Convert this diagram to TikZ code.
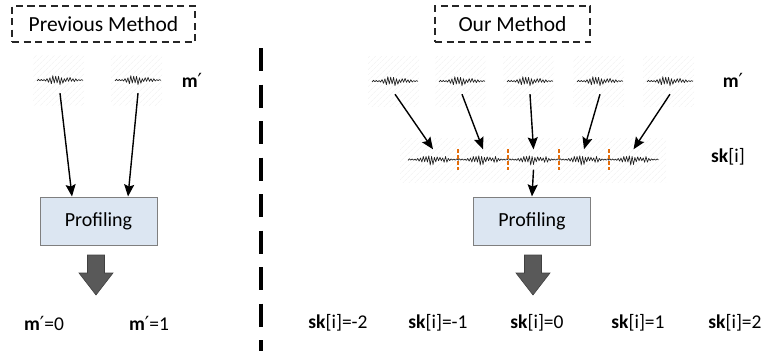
\documentclass[tikz,border=0pt]{standalone}
\usepackage{fontspec}
\setmainfont{Carlito}
\newfontfamily\primefont{DejaVu Sans}
\newcommand\prm{{\primefont\mdseries ′}}
\usetikzlibrary{arrows.meta,patterns.meta}
\definecolor{profill}{HTML}{DCE6F2}
\definecolor{proline}{HTML}{7F7F7F}
\definecolor{bigarrow}{HTML}{595959}
\definecolor{sepor}{HTML}{E36C09}
\definecolor{wavecol}{HTML}{1E1E1E}
\newcommand\mywave[3]{% node name, half width, number of steps
  \begin{scope}[shift={(#1.center)}]
    \pgfmathsetseed{11}
    \draw[wave] plot[domain=0:#3, samples=#3+1]
      ({-#2+\x*2*#2/#3},
       {(0.9+7.2*exp(-((-#2+\x*2*#2/#3+3)/(0.3*#2))^2)+3*exp(-((-#2+\x*2*#2/#3-0.45*#2)/(0.2*#2))^2))*(0.3+0.7*rnd)*cos(180*\x)});
  \end{scope}}
\begin{document}
\begin{tikzpicture}[x=1pt,y=-1pt,
  titlebox/.style={draw=black!85, line width=1.4pt, dash pattern=on 7pt off 4.5pt,
    minimum height=36pt, inner sep=0pt, font=\fontsize{21.5}{25}\selectfont},
  prof/.style={draw=proline, fill=profill, line width=1pt, minimum width=117pt,
    minimum height=48pt, inner sep=0pt, font=\fontsize{20}{24}\selectfont},
  wnode/.style={minimum width=46pt, minimum height=26pt, inner sep=0pt},
  snode/.style={minimum width=50pt, minimum height=20pt, inner sep=0pt},
  wave/.style={draw=wavecol, line width=0.65pt, line join=round},
  hatch/.style={pattern={Lines[angle=45,distance=4pt,line width=0.5pt]}, pattern color=black!6},
  arr/.style={line width=1.4pt, -{Stealth[length=12pt,width=10pt,inset=2pt]}},
  lab/.style={font=\fontsize{19.5}{23}\selectfont, inner sep=0pt},
  sepline/.style={draw=sepor, line width=1.6pt, dash pattern=on 3.5pt off 2.5pt},
  big/.style={fill=bigarrow, draw=black!75, line width=0.6pt, line join=miter}
]
\useasboundingbox (0,0) rectangle (764,351);

% titles
\node[titlebox, minimum width=183pt] (t1) at (103.5,24) {Previous Method};
\node[titlebox, minimum width=155pt] (t2) at (512.5,24) {Our Method};

% vertical divider
\draw[line width=3.3pt, dash pattern=on 23pt off 13.5pt] (261,48) -- (261,351);

% hatched backgrounds
\foreach \cx in {60,138}{\fill[hatch] (\cx-27,55) rectangle (\cx+24,105);}
\foreach \cx in {395,462,530,600,670}{\fill[hatch] (\cx-27,56) rectangle (\cx+24,106);}
\fill[hatch] (400,138) rectangle (666,182);

% left waveforms
\node[wnode] (a1) at (60,80) {};
\node[wnode] (a2) at (138,80) {};
\mywave{a1}{23}{32}
\mywave{a2}{23}{32}
\node[lab] (am) at (192,80) {\textbf{m}\prm};

% right waveforms
\node[wnode] (b1) at (395,81) {};
\node[wnode] (b2) at (462,81) {};
\node[wnode] (b3) at (530,81) {};
\node[wnode] (b4) at (600,81) {};
\node[wnode] (b5) at (670,81) {};
\foreach \n in {b1,b2,b3,b4,b5}{\mywave{\n}{23}{32}}
\node[lab] (bm) at (733,80) {\textbf{m}\prm};

% sk segments
\node[snode] (s1) at (433,159.5) {};
\node[snode] (s2) at (483,159.5) {};
\node[snode] (s3) at (533.5,159.5) {};
\node[snode] (s4) at (584,159.5) {};
\node[snode] (s5) at (633.5,159.5) {};
\foreach \n in {s1,s2,s3,s4,s5}{\mywave{\n}{25}{36}}
\foreach \n in {s1,s2,s3,s4}{\draw[sepline] (\n.north east) -- (\n.south east);}
\node[lab] (sk) at (728,157) {\textbf{sk}[i]};

% profiling boxes
\node[prof] (p1) at (98.5,221) {Profiling};
\node[prof] (p2) at (532,221) {Profiling};

% arrows
\draw[arr] (a1.south) -- ([xshift=-26.5pt]p1.north);
\draw[arr] (a2.south) -- ([xshift=29.5pt]p1.north);
\draw[arr] (b1.south) -- (s1.north);
\draw[arr] (b2.south) -- (s2.north);
\draw[arr] (b3.south) -- (s3.north);
\draw[arr] (b4.south) -- (s4.north);
\draw[arr] (b5.south) -- (s5.north);
\draw[arr] (s3.south) -- (p2.north);

% big arrows
\coordinate (g1) at (96,255);
\coordinate (g2) at (533,255);
\foreach \g in {g1,g2}{
  \begin{scope}[shift={(\g)}]
    \draw[big] (-8.5,0) -- (8.5,0) -- (8.5,18) -- (17,18) -- (0,40) -- (-17,18) -- (-8.5,18) -- cycle;
  \end{scope}}

% bottom labels
\node[lab] (l1) at (44,323) {\textbf{m}\prm=0};
\node[lab] (l2) at (149,323) {\textbf{m}\prm=1};
\node[lab] (r1) at (338,323) {\textbf{sk}[i]=-2};
\node[lab] (r2) at (438,323) {\textbf{sk}[i]=-1};
\node[lab] (r3) at (537,323) {\textbf{sk}[i]=0};
\node[lab] (r4) at (638,323) {\textbf{sk}[i]=1};
\node[lab] (r5) at (735,323) {\textbf{sk}[i]=2};
\end{tikzpicture}
\end{document}
